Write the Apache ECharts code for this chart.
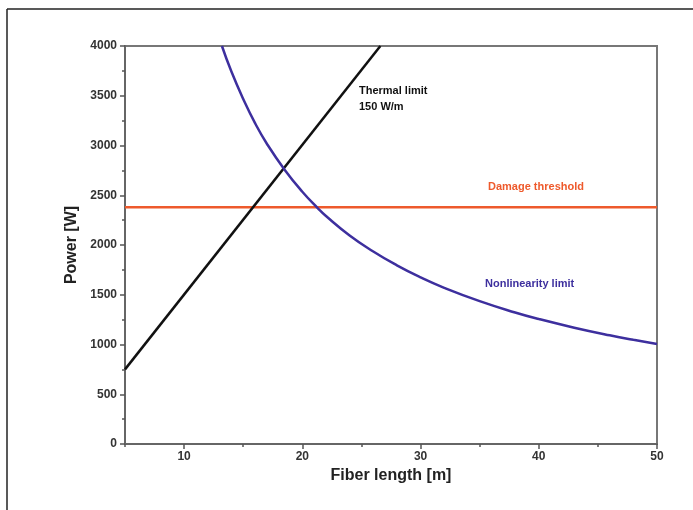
<!DOCTYPE html>
<html>
<head>
<meta charset="utf-8">
<script src="https://cdn.jsdelivr.net/npm/echarts@6/dist/echarts.min.js"></script>
<style>
  html, body { margin: 0; padding: 0; background: #fff; }
  #chart { width: 693px; height: 510px; }
</style>
</head>
<body>
<div id="chart"></div>
<script>
// values
var xMajorTicks = [10, 20, 30, 40, 50];
var thermalLimit = [[5, 750], [26.6, 4000]];
var damageThreshold = [[5, 2380], [50, 2380]];
var nonlinearityLimit = [
    [13.2, 4000], [14, 3743], [15, 3467], [16, 3225], [17, 3018], [18.5, 2757],
    [20, 2535], [21.3, 2371], [22, 2291], [24, 2096], [26, 1935], [28, 1796],
    [30, 1675], [32, 1570], [35, 1436], [38, 1322], [40, 1256], [43, 1169],
    [46, 1092], [48, 1047], [50, 1005]
];

var chart = echarts.init(document.getElementById('chart'));

var labelFont = { color: '#333', fontFamily: 'Liberation Sans', fontWeight: 'bold', fontSize: 12 };

var option = {
    animation: false,
    backgroundColor: '#fff',
    grid: {
        left: 125, right: 36, top: 46, bottom: 66,
        show: true, borderColor: '#777', borderWidth: 2
    },
    xAxis: [
        {
            type: 'value', min: 5, max: 50, position: 'bottom',
            name: 'Fiber length [m]', nameLocation: 'middle', nameGap: 18,
            nameTextStyle: { color: '#222', fontFamily: 'Liberation Sans', fontWeight: 'bold', fontSize: 16 },
            axisLine: { lineStyle: { color: '#666', width: 2 } },
            axisTick: { customValues: xMajorTicks, length: 5, lineStyle: { color: '#555', width: 1.5 } },
            axisLabel: Object.assign({ customValues: xMajorTicks, margin: 7 }, labelFont),
            splitLine: { show: false }
        },
        {
            type: 'value', min: 5, max: 50, interval: 5, position: 'bottom',
            axisLine: { show: false },
            axisTick: { length: 3, lineStyle: { color: '#555', width: 1.5 } },
            axisLabel: { show: false },
            splitLine: { show: false }
        }
    ],
    yAxis: {
        type: 'value', min: 0, max: 4000, interval: 500,
        name: 'Power [W]', nameLocation: 'middle', nameGap: 43,
        nameTextStyle: { color: '#222', fontFamily: 'Liberation Sans', fontWeight: 'bold', fontSize: 16 },
        axisLine: { show: true, lineStyle: { color: '#666', width: 2 } },
        axisTick: { show: true, length: 5, lineStyle: { color: '#555', width: 1.5 } },
        minorTick: { show: true, splitNumber: 2, length: 3, lineStyle: { color: '#555', width: 1.5 } },
        axisLabel: Object.assign({ margin: 8, formatter: function (v) { return String(v); } }, labelFont),
        splitLine: { show: false }
    },
    series: [
        {
            name: 'Damage threshold', type: 'line', data: damageThreshold,
            showSymbol: false, lineStyle: { color: '#ee5a2c', width: 2.5 }
        },
        {
            name: 'Thermal limit', type: 'line', data: thermalLimit,
            showSymbol: false, lineStyle: { color: '#111', width: 2.5 }
        },
        {
            name: 'Nonlinearity limit', type: 'line', data: nonlinearityLimit,
            showSymbol: false, smooth: true,
            lineStyle: { color: '#3d2f9e', width: 2.5 }
        }
    ],
    graphic: [
        { type: 'line', shape: { x1: 7, y1: 9, x2: 693, y2: 9 }, style: { stroke: '#222', lineWidth: 1.5 } },
        { type: 'line', shape: { x1: 7, y1: 9, x2: 7, y2: 510 }, style: { stroke: '#222', lineWidth: 1.5 } },
        {
            type: 'text', left: 359, top: 83,
            style: { text: 'Thermal limit\n150 W/m', fill: '#111', font: 'bold 11px Liberation Sans', lineHeight: 16 }
        },
        {
            type: 'text', left: 488, top: 181,
            style: { text: 'Damage threshold', fill: '#ee5a2c', font: 'bold 11px Liberation Sans' }
        },
        {
            type: 'text', left: 485, top: 278,
            style: { text: 'Nonlinearity limit', fill: '#3d2f9e', font: 'bold 11px Liberation Sans' }
        }
    ]
};

chart.setOption(option);
</script>
</body>
</html>
